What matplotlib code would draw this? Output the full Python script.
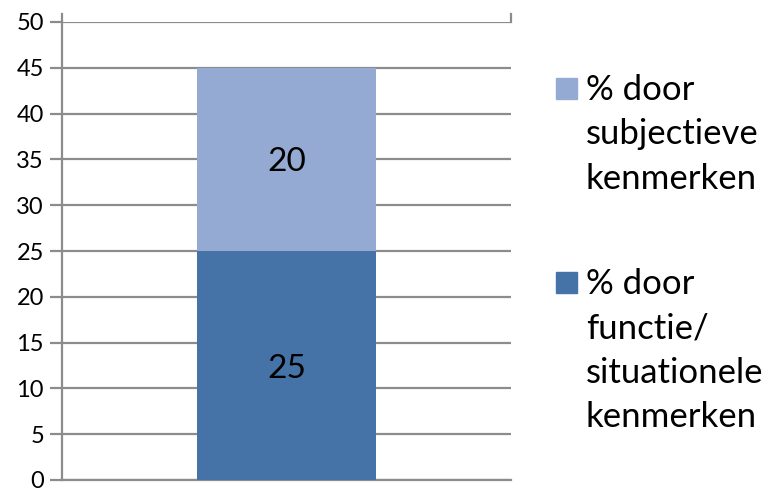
import matplotlib
matplotlib.use("Agg")
import matplotlib.pyplot as plt
from matplotlib.patches import Rectangle

plt.rcParams['font.family'] = ['Lato', 'DejaVu Sans']

categories = ['']
series_names = ['% door\nfunctie/\nsituationele\nkenmerken',
                '% door\nsubjectieve\nkenmerken']
bottom_vals = [25]
top_vals = [20]
colors = ['#4573A7', '#95AAD3']
yticks = list(range(0, 55, 5))

fig = plt.figure(figsize=(7.68, 4.88), dpi=100)
ax = fig.add_axes([62/768, 1-480/488, (511-62)/768, (480-22)/488])

x = list(range(len(categories)))
b1 = ax.bar(x, bottom_vals, width=0.4, color=colors[0], zorder=3)
b2 = ax.bar(x, top_vals, bottom=bottom_vals, width=0.4, color=colors[1], zorder=3)
for xi, v in zip(x, bottom_vals):
    ax.text(xi, v/2, str(v), ha='center', va='center_baseline', fontsize=24, zorder=4)
for xi, b, v in zip(x, bottom_vals, top_vals):
    ax.text(xi, b + v/2, str(v), ha='center', va='center_baseline', fontsize=24, zorder=4)

ax.set_xlim(-0.5, 0.5)
ax.set_ylim(0, 50)
ax.set_yticks(yticks)
ax.set_yticklabels([str(t) for t in yticks], fontsize=17)
ax.set_xticks([])
ax.yaxis.grid(True, color='#8c8c8c', linewidth=1.6, zorder=0)
ax.tick_params(axis='y', length=9, width=1.6, color='#8c8c8c', pad=4)
for s in ['top', 'right']:
    ax.spines[s].set_visible(False)
ax.spines['left'].set_color('#8c8c8c')
ax.spines['left'].set_linewidth(1.6)
ax.spines['bottom'].set_color('#8c8c8c')
ax.spines['bottom'].set_linewidth(1.6)
# small ticks above the top corners
ax.plot([1, 1], [1, 1 + 8/458], transform=ax.transAxes, color='#8c8c8c',
        linewidth=1.6, clip_on=False)
ax.plot([0, 0], [1, 1 + 8/458], transform=ax.transAxes, color='#8c8c8c',
        linewidth=1.6, clip_on=False)

# legend (top entry first)
entries = [(series_names[1], colors[1], 89), (series_names[0], colors[0], 283)]
for label, col, yc in entries:
    fig.patches.append(Rectangle((556/768, 1-(yc+10)/488), 21/768, 21/488,
                                 transform=fig.transFigure, color=col))
    fig.text(586/768, 1-(yc-15)/488, label, fontsize=25, va='top', ha='left',
             linespacing=1.48)

fig.savefig('out.png', dpi=100)
